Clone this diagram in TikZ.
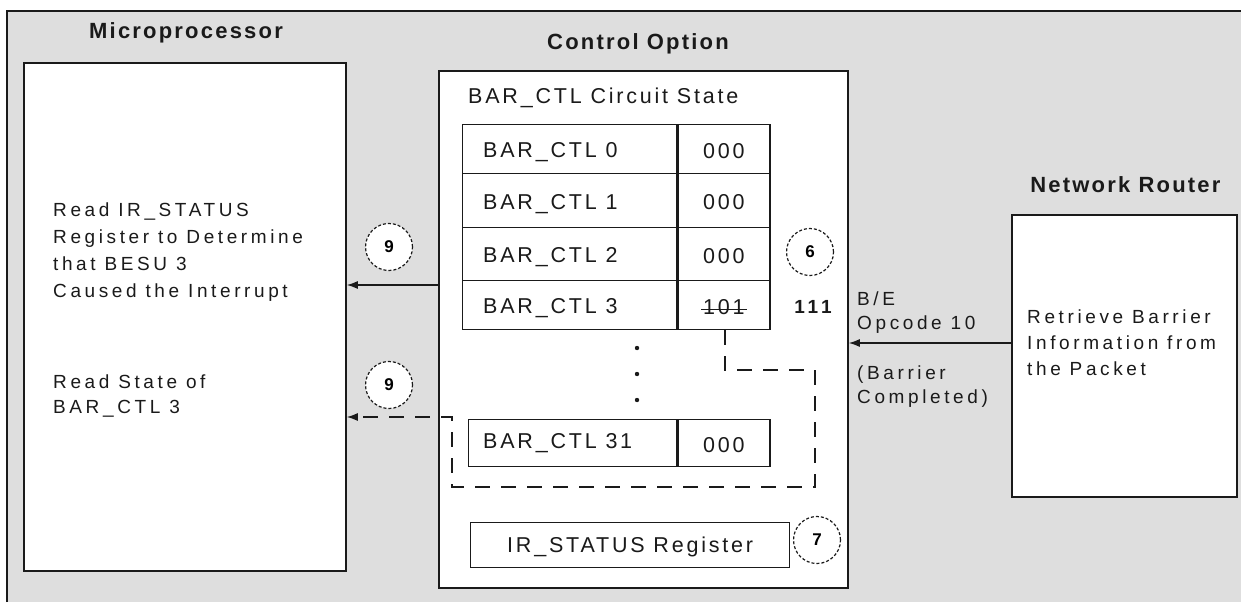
\documentclass[tikz,border=0pt]{standalone}
\usepackage{fontspec}
\setmainfont{Liberation Sans}
\usetikzlibrary{arrows.meta,positioning}
\definecolor{bcInk}{HTML}{1A1A1A}
\definecolor{bcPanel}{HTML}{DEDEDE}
\newcommand{\bcfont}[3]{\fontsize{#1}{#2}\selectfont\addfontfeature{LetterSpace=#3}}
\tikzset{
  bc panel/.style={fill=bcPanel},
  bc frame/.style={draw=bcInk, line width=1.8pt},
  bc box/.style={draw=bcInk, fill=white, line width=1.8pt, inner sep=0pt, anchor=north west},
  bc cell/.style={draw=bcInk, fill=white, line width=1.3pt, inner sep=0pt, anchor=north west},
  bc title/.style={font=\bfseries\bcfont{22}{26}{10}, text=bcInk, anchor=base},
  bc label/.style={font=\bcfont{21.5}{26}{13}, text=bcInk, inner sep=0pt,
    text height=15.4pt, text depth=0pt},
  bc note/.style={font=\bcfont{19}{26}{19}, text=bcInk, align=left, inner sep=0pt,
    anchor=north west},
  bc num/.style={circle, draw=bcInk, fill=white, line width=1.2pt,
    dash pattern=on 3pt off 2pt, minimum size=47pt, inner sep=0pt,
    font=\bfseries\bcfont{17}{20}{0}},
  bc flow/.style={draw=bcInk, line width=1.3pt, -{Latex[length=11pt,width=8pt]}},
  bc flow dashed/.style={bc flow, dash pattern=on 15pt off 11pt}
}

\begin{document}
\begin{tikzpicture}[x=1pt,y=-1pt]
  \useasboundingbox (0,0) rectangle (1241,602);
  \fill[bc panel] (7,11) rectangle (1241,602);
  \draw[bc frame] (7,602) -- (7,11) -- (1241,11);

  % the three units
  \node[bc box, minimum width=322pt, minimum height=508pt] (micro) at (23,62) {};
  \node[bc box, minimum width=409pt, minimum height=517pt] (ctrl) at (438,70) {};
  \node[bc box, minimum width=225pt, minimum height=282pt] (router) at (1011,214) {};

  \node[bc title] (microT) at (186,39) {Microprocessor};
  \node[bc title] (ctrlT) at (638,49) {Control Option};
  \node[bc title, anchor=base east] (routerT) at (1224,192) {Network Router};

  \node[bc label, anchor=west] (stateT) at (468,96) {BAR\_CTL Circuit State};

  % circuit state table
  \foreach \rr/\ry/\rh/\rv in {0/124/49/000, 1/173/54/000, 2/227/53/000, 3/280/49/101} {
    \node[bc cell, minimum width=214pt, minimum height=\rh pt] (ctl\rr) at (462,\ry) {};
    \node[bc cell, minimum width=92pt, minimum height=\rh pt] (val\rr) at (ctl\rr.north east) {};
    \node[bc label, anchor=west] (ctl\rr T) at (483,{\ry+\rh/2+1.5}) {BAR\_CTL \rr};
    \node[bc label] (val\rr T) at ([yshift=-1.5pt]val\rr.center) {\rv};
  }
  \draw[bcInk, line width=1.2pt] ([xshift=-2pt,yshift=-3pt]val3T.west)
    -- ([xshift=2pt,yshift=-3pt]val3T.east);
  \node[bc label, font=\bfseries\bcfont{19}{22}{20}, text height=13.6pt] (newv) at (813,307) {111};

  \foreach \dy in {348,374,400}
    \fill[bcInk] (637,\dy) circle[radius=2.2pt];

  \node[bc cell, minimum width=208pt, minimum height=47pt] (ctl31) at (468,419) {};
  \node[bc cell, minimum width=92pt, minimum height=47pt] (val31) at (ctl31.north east) {};
  \node[bc label, anchor=west] (ctl31T) at (483,441) {BAR\_CTL 31};
  \node[bc label] (val31T) at ([yshift=-1.5pt]val31.center) {000};

  \node[bc cell, bc label, anchor=north west, minimum width=319pt, minimum height=45pt]
    (irs) at (470,522) {IR\_STATUS Register};

  % step markers
  \node[bc num] (s9a) at (389,247) {9};
  \node[bc num] (s9b) at (389,385) {9};
  \node[bc num] (s6) at (810,252) {6};
  \node[bc num] (s7) at (817,540) {7};

  % texts
  \node[bc note, font=\bcfont{19}{27}{19}] (readIrs) at (53,203)
    {Read IR\_STATUS\\Register to Determine\\that BESU 3\\Caused the Interrupt};
  \node[bc note, font=\bcfont{19}{25}{19}] (readState) at (53,375) {Read State of\\BAR\_CTL 3};
  \node[bc note] (retrieve) at (1027,310) {Retrieve Barrier\\Information from\\the Packet};
  \node[bc note, font=\bcfont{19}{24}{19}] (opcode) at (857,292) {B/E\\Opcode 10};
  \node[bc note, font=\bcfont{19}{24}{19}] (done) at (857,366) {(Barrier\\Completed)};

  % flows
  \coordinate (c9a) at (438,285);
  \draw[bc flow] (c9a) -- (c9a -| micro.east);
  \coordinate (cin) at (1011,343);
  \draw[bc flow] (cin) -- (cin -| ctrl.east);
  \coordinate (d1) at (725,370);
  \coordinate (d2) at (815,370);
  \coordinate (d3) at (815,487);
  \coordinate (d4) at (452,487);
  \coordinate (d5) at (452,417);
  \draw[bc flow dashed] (val3.south -| d1) -- (d1) -- (d2) -- (d3) -- (d4) -- (d5)
    -- (d5 -| micro.east);
\end{tikzpicture}
\end{document}
